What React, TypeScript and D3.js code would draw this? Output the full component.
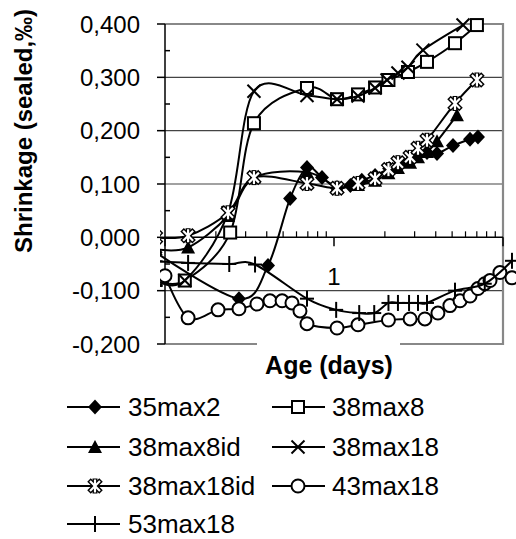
import React from 'react';
import * as d3 from 'd3';

// ---- data (age in days, shrinkage in ‰) ----
const seriesNames = ['35max2', '38max8', '38max8id', '38max18', '38max18id', '43max18', '53max18'];

const age35max2 = [0.088, 0.274, 0.407, 0.55, 0.692, 0.849, 1.042, 1.25, 1.46, 1.75, 2.12, 2.46, 2.94, 3.55, 4.07, 5.06, 6.38, 7.11];
const val35max2 = [-0.028, -0.115, -0.053, 0.073, 0.131, 0.112, 0.092, 0.097, 0.107, 0.116, 0.129, 0.138, 0.15, 0.159, 0.157, 0.172, 0.184, 0.188];

const age38max8 = [0.088, 0.131, 0.243, 0.336, 0.692, 1.042, 1.387, 1.75, 2.1, 2.74, 3.55, 5.2, 7.01];
const val38max8 = [-0.08, -0.081, 0.009, 0.214, 0.28, 0.259, 0.268, 0.281, 0.295, 0.31, 0.329, 0.364, 0.398];

const age38max8id = [0.088, 0.137, 0.236, 0.336, 0.692, 1.042, 1.387, 1.75, 2.1, 2.39, 2.82, 3.14, 3.55, 4.07, 5.34];
const val38max8id = [-0.022, -0.019, 0.04, 0.112, 0.122, 0.095, 0.098, 0.106, 0.12, 0.13, 0.14, 0.15, 0.16, 0.18, 0.229];

const age38max18 = [0.088, 0.131, 0.236, 0.336, 0.692, 1.042, 1.387, 1.75, 2.06, 2.39, 2.74, 3.36, 5.8];
const val38max18 = [-0.08, -0.081, 0.046, 0.274, 0.266, 0.259, 0.265, 0.28, 0.295, 0.308, 0.319, 0.351, 0.398];

const age38max18id = [0.088, 0.137, 0.236, 0.336, 0.692, 1.042, 1.387, 1.75, 2.1, 2.39, 2.82, 3.14, 3.55, 5.2, 7.01];
const val38max18id = [0.0, 0.003, 0.046, 0.112, 0.101, 0.092, 0.101, 0.11, 0.127, 0.14, 0.15, 0.167, 0.182, 0.251, 0.295];

const age43max18 = [0.1, 0.137, 0.206, 0.274, 0.35, 0.418, 0.493, 0.564, 0.629, 0.692, 1.042, 1.387, 2.1, 2.82, 3.45, 4.12, 4.85, 5.57, 6.38, 7.11, 7.8, 8.38, 9.59, 11.3];
const val43max18 = [-0.072, -0.151, -0.136, -0.134, -0.125, -0.119, -0.119, -0.123, -0.138, -0.162, -0.17, -0.164, -0.155, -0.153, -0.153, -0.142, -0.128, -0.119, -0.11, -0.096, -0.087, -0.081, -0.066, -0.076];

const age53max18 = [0.088, 0.137, 0.24, 0.341, 0.692, 1.03, 1.41, 1.73, 2.1, 2.39, 2.78, 3.14, 3.55, 5.2, 7.8, 11.3];
const val53max18 = [-0.045, -0.048, -0.05, -0.051, -0.115, -0.136, -0.142, -0.142, -0.123, -0.123, -0.123, -0.123, -0.123, -0.1, -0.087, -0.044];

const yTickValues = [-0.2, -0.1, 0, 0.1, 0.2, 0.3, 0.4];
const yMinorValues = [-0.15, -0.05, 0.05, 0.15, 0.25, 0.35];
const yGridValues = [-0.1, 0.1, 0.2, 0.3];
const xMajorValues = [0.1, 1, 10];
const xMinorValues = [0.2, 0.3, 0.4, 0.5, 0.6, 0.7, 0.8, 0.9, 2, 3, 4, 5, 6, 7, 8, 9];
const xTickLabels = [{ value: 1, label: '1' }];

const yTitle = 'Shrinkage (sealed,‰)';
const xTitle = 'Age (days)';

const FONT = '"Liberation Sans", Arial, sans-serif';

type MarkerKind = 'diamond' | 'square' | 'triangle' | 'x' | 'star' | 'circle' | 'plus';
const markerKinds: MarkerKind[] = ['diamond', 'square', 'triangle', 'x', 'star', 'circle', 'plus'];
const seriesAges = [age35max2, age38max8, age38max8id, age38max18, age38max18id, age43max18, age53max18];
const seriesVals = [val35max2, val38max8, val38max8id, val38max18, val38max18id, val43max18, val53max18];

function Marker({ kind, cx, cy }: { kind: MarkerKind; cx: number; cy: number }) {
  const t = `translate(${cx},${cy})`;
  switch (kind) {
    case 'diamond':
      return <path transform={t} d="M0,-7.5L7,0L0,7.5L-7,0Z" fill="#000" />;
    case 'square':
      return <rect transform={t} x={-6} y={-6} width={12} height={12} fill="#fff" stroke="#000" strokeWidth={2} />;
    case 'triangle':
      return <path transform={t} d="M0,-7L7,6L-7,6Z" fill="#000" />;
    case 'x':
      return (
        <g transform={t} stroke="#000" strokeWidth={2}>
          <line x1={-6.5} y1={-6.5} x2={6.5} y2={6.5} />
          <line x1={-6.5} y1={6.5} x2={6.5} y2={-6.5} />
        </g>
      );
    case 'star':
      return (
        <g transform={t}>
          <g stroke="#000" strokeWidth={5}>
            <line x1={-6} y1={-6} x2={6} y2={6} />
            <line x1={-6} y1={6} x2={6} y2={-6} />
            <line x1={0} y1={-7.5} x2={0} y2={7.5} />
          </g>
          <g stroke="#fff" strokeWidth={2.2}>
            <line x1={-5} y1={-5} x2={5} y2={5} />
            <line x1={-5} y1={5} x2={5} y2={-5} />
            <line x1={0} y1={-6.5} x2={0} y2={6.5} />
          </g>
        </g>
      );
    case 'circle':
      return <circle cx={cx} cy={cy} r={6.5} fill="#fff" stroke="#000" strokeWidth={2} />;
    case 'plus':
      return (
        <g transform={t} stroke="#000" strokeWidth={2}>
          <line x1={-7} y1={0} x2={7} y2={0} />
          <line x1={0} y1={-8} x2={0} y2={8} />
        </g>
      );
  }
  return null;
}

export default function App() {
  const W = 516;
  const H = 539;
  const X0 = 165, X1 = 503, YT = 24, YB = 344;
  const x = d3.scaleLog().domain([0.1, 10]).range([X0, X1]);
  const y = d3.scaleLinear().domain([-0.2, 0.4]).range([YB, YT]);
  const fmt = (v: number) => d3.format('.3f')(v).replace('.', ',').replace('−', '-');

  const line = d3
    .line<[number, number]>()
    .x((d) => x(d[0]))
    .y((d) => y(d[1]))
    .curve(d3.curveCardinal);

  const series = seriesNames.map((name, i) => ({
    name,
    kind: markerKinds[i],
    pts: seriesAges[i].map((a, j) => [a, seriesVals[i][j]] as [number, number]),
  }));

  const legendRows = [407, 447, 486, 524];
  const legendCols = [{ lx: 67, mx: 95, tx: 128 }, { lx: 272, mx: 298, tx: 332 }];

  return (
    <svg width={W} height={H} style={{ position: 'absolute', left: 0, top: 0, background: '#fff' }} fontFamily={FONT}>
      <defs>
        <clipPath id="plotClip">
          <rect x={160} y={0} width={W - 160} height={H} />
        </clipPath>
      </defs>
      <rect x={0} y={0} width={W} height={H} fill="#fff" />
      {/* gridlines */}
      {yGridValues.map((v) => (
        <line key={v} x1={X0} x2={X1} y1={y(v)} y2={y(v)} stroke="#444" strokeWidth={1.2} />
      ))}
      {/* plot border (top, right, bottom) */}
      <path d={`M${X0},${YT}H${X1}V${YB}H${X0}`} fill="none" stroke="#888" strokeWidth={2.2} />
      {/* y axis */}
      <line x1={X0} x2={X0} y1={YT} y2={YB} stroke="#000" strokeWidth={1.5} />
      {yTickValues.map((v) => (
        <g key={v}>
          <line x1={X0 - 8} x2={X0} y1={y(v)} y2={y(v)} stroke="#000" strokeWidth={1.5} />
          <text x={140} y={y(v)} dy="0.36em" textAnchor="end" fontSize={24} fill="#000">
            {fmt(v)}
          </text>
        </g>
      ))}
      {yMinorValues.map((v) => (
        <line key={v} x1={X0} x2={X0 + 5} y1={y(v)} y2={y(v)} stroke="#000" strokeWidth={1.5} />
      ))}
      {/* x axis at y = 0 */}
      <line x1={X0} x2={X1} y1={y(0)} y2={y(0)} stroke="#000" strokeWidth={1.5} />
      {xMajorValues.map((v) => (
        <line key={v} x1={x(v)} x2={x(v)} y1={y(0)} y2={y(0) + 9} stroke="#000" strokeWidth={1.5} />
      ))}
      {xMinorValues.map((v) => (
        <line key={v} x1={x(v)} x2={x(v)} y1={y(0)} y2={y(0) - 6} stroke="#000" strokeWidth={1.2} />
      ))}
      {xTickLabels.map((d) => (
        <text key={d.label} x={x(d.value)} y={285} textAnchor="middle" fontSize={24} fill="#000">
          {d.label}
        </text>
      ))}
      {/* series */}
      <g clipPath="url(#plotClip)">
        {series.map((s) => (
          <g key={s.name}>
            <path d={line(s.pts) || ''} fill="none" stroke="#000" strokeWidth={2} />
            {s.pts.map((p, j) => (
              <Marker key={j} kind={s.kind} cx={x(p[0])} cy={y(p[1])} />
            ))}
          </g>
        ))}
      </g>
      {/* x title with white background */}
      <rect x={257} y={340} width={143} height={40} fill="#fff" />
      <text x={329} y={374} textAnchor="middle" fontSize={25} fontWeight="bold" fill="#000">
        {xTitle}
      </text>
      {/* y title */}
      <text transform="translate(32,131) rotate(-90)" textAnchor="middle" fontSize={24} fontWeight="bold" fill="#000">
        {yTitle}
      </text>
      {/* legend */}
      {series.map((s, i) => {
        const col = legendCols[i % 2];
        const ry = legendRows[Math.floor(i / 2)];
        return (
          <g key={s.name}>
            <line x1={col.lx} x2={col.lx + 53} y1={ry} y2={ry} stroke="#000" strokeWidth={2} />
            <Marker kind={s.kind} cx={col.mx} cy={ry} />
            <text x={col.tx} y={ry} dy="0.36em" fontSize={26} fill="#000">
              {s.name}
            </text>
          </g>
        );
      })}
    </svg>
  );
}
